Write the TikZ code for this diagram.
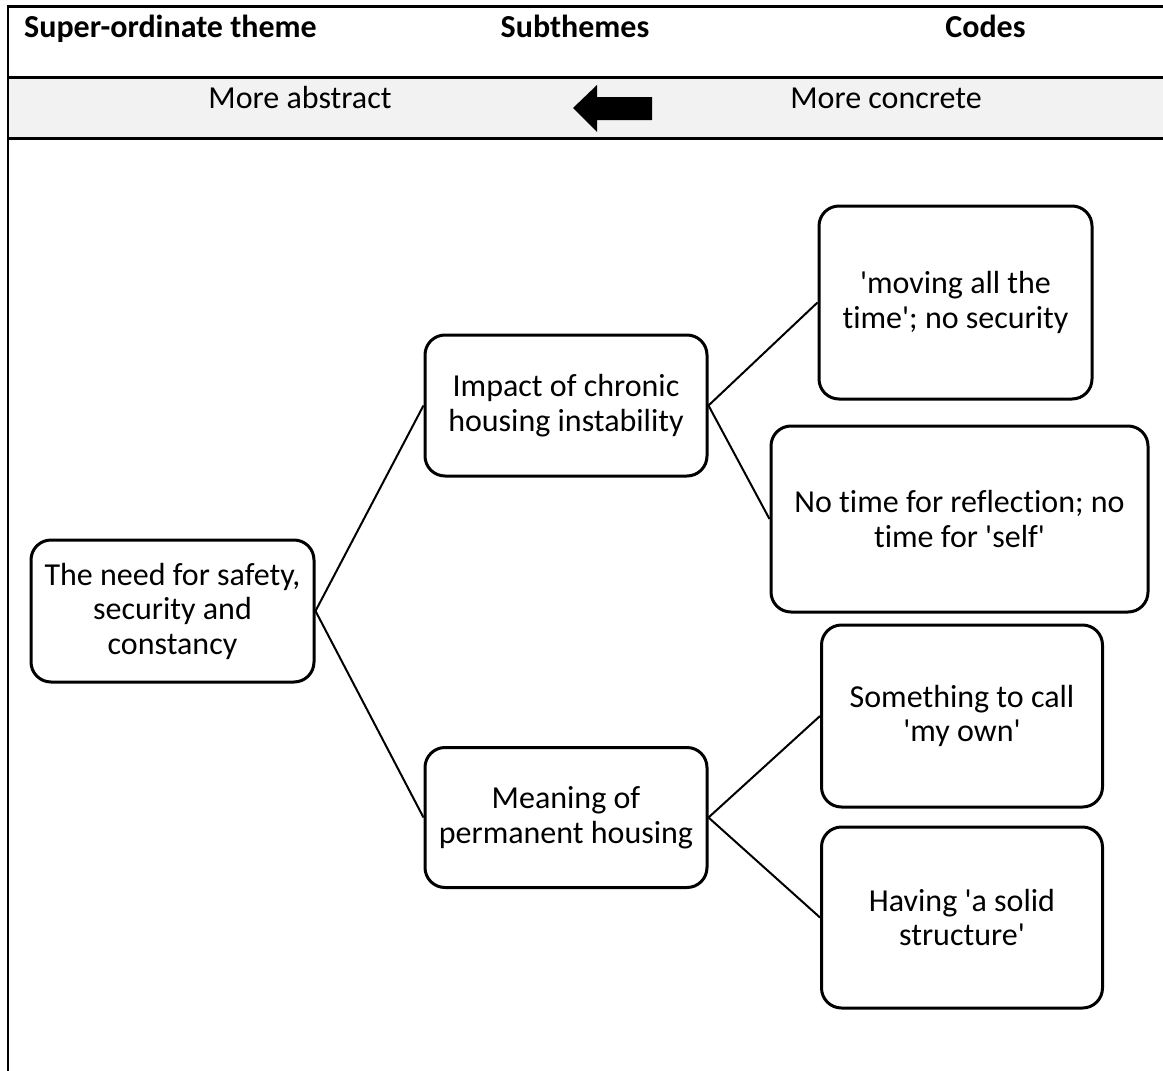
\documentclass[tikz,border=0pt]{standalone}
\usepackage{fontspec}
\setmainfont{Carlito}[Ligatures={TeXOff,CommonOff}]
\begin{document}
\begin{tikzpicture}[x=1pt,y=-1pt,
  boxtext/.style={font=\fontsize{32}{34.5}\selectfont},
  headtext/.style={font=\fontsize{32}{35}\selectfont\bfseries, anchor=base, inner sep=0pt},
  bandtext/.style={font=\fontsize{32}{35}\selectfont, anchor=base, inner sep=0pt},
  tableline/.style={line width=3pt},
  themebox/.style={draw, line width=3pt, rounded corners=20pt, align=center,
    boxtext, inner sep=0pt},
  link/.style={line width=2pt}
]
\useasboundingbox (0,0) rectangle (1163,1071);
% table
\fill[gray!10] (7.5,77) rectangle (1163,138);
\draw[tableline] (7.5,6) -- (1163,6);
\draw[tableline] (7.5,77) -- (1163,77);
\draw[tableline] (7.5,138) -- (1163,138);
\draw[line width=2pt] (7.5,4.5) -- (7.5,1071);
% headers
\node[headtext, anchor=base west] (h1) at (24,37) {Super-ordinate theme};
\node[headtext] (h2) at (575,37) {Subthemes};
\node[headtext] (h3) at (985.5,37) {Codes};
\node[bandtext] (b1) at (300,108) {More abstract};
\node[bandtext] (b2) at (886,108) {More concrete};
\fill (573,108) -- (597,85) -- (597,97) -- (652,97) -- (652,120) -- (597,120) -- (597,132) -- cycle;
% boxes
\node[themebox, minimum width=283pt, minimum height=142pt] (root) at (172.5,611)
  {The need for safety,\\ security and\\ constancy};
\node[themebox, minimum width=282pt, minimum height=141pt] (imp) at (566,405.5)
  {Impact of chronic\\ housing instability};
\node[themebox, minimum width=282pt, minimum height=140pt] (mean) at (566,817.5)
  {Meaning of\\ permanent housing};
\node[themebox, minimum width=273pt, minimum height=193pt] (c1) at (955.5,302.5)
  {'moving all the\\ time'; no security};
\node[themebox, minimum width=377pt, minimum height=186pt] (c2) at (959.5,519)
  {No time for reflection; no\\ time for 'self'};
\node[themebox, minimum width=281pt, minimum height=182pt] (c3) at (962,716)
  {Something to call\\ 'my own'};
\node[themebox, minimum width=281pt, minimum height=181pt] (c4) at (962,917.5)
  {Having 'a solid\\ structure'};
% connectors
\draw[link] (root.east) -- (imp.west);
\draw[link] (root.east) -- (mean.west);
\draw[link] (imp.east) -- (c1.west);
\draw[link] (imp.east) -- (c2.west);
\draw[link] (mean.east) -- (c3.west);
\draw[link] (mean.east) -- (c4.west);
\end{tikzpicture}
\end{document}
